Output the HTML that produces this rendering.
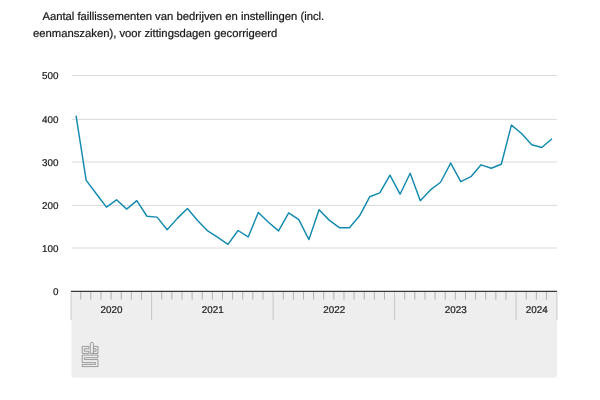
<!DOCTYPE html>
<html lang="nl"><head><meta charset="utf-8"><title>Faillissementen</title>
<style>
html,body{margin:0;padding:0;background:#fff;}
body{width:600px;height:400px;overflow:hidden;}
svg{display:block;text-rendering:geometricPrecision;font-family:"Liberation Sans",Arial,sans-serif;}
.t{font-size:11.28px;fill:#1a1a1a;stroke:#1a1a1a;stroke-width:0.24px;}
.l{font-size:9.85px;fill:#1c1c1c;stroke:#1c1c1c;stroke-width:0.22px;}
</style></head><body>
<svg width="600" height="400" viewBox="0 0 600 400">
<rect width="600" height="400" fill="#fff"/>
<text class="t" x="42.4" y="19.8">Aantal faillissementen van bedrijven en instellingen (incl.</text>
<text class="t" x="33" y="36.6">eenmanszaken), voor zittingsdagen gecorrigeerd</text>
<path d="M71.4 291 H557 V374.6 a3.2 3.2 0 0 1 -3.2 3.2 H74.6 a3.2 3.2 0 0 1 -3.2 -3.2 Z" fill="#eeeeee"/>

<line x1="71.6" x2="557.0" y1="248.0" y2="248.0" stroke="#dadada" stroke-width="1"/>
<line x1="71.6" x2="557.0" y1="205.4" y2="205.4" stroke="#dadada" stroke-width="1"/>
<line x1="71.6" x2="557.0" y1="162.0" y2="162.0" stroke="#dadada" stroke-width="1"/>
<line x1="71.6" x2="557.0" y1="119.35" y2="119.35" stroke="#dadada" stroke-width="1"/>
<line x1="71.6" x2="557.0" y1="75.5" y2="75.5" stroke="#dadada" stroke-width="1"/>
<text class="l" x="58.4" y="295.05" text-anchor="end">0</text>
<text class="l" x="58.4" y="251.75" text-anchor="end">100</text>
<text class="l" x="58.4" y="209.15" text-anchor="end">200</text>
<text class="l" x="58.4" y="165.75" text-anchor="end">300</text>
<text class="l" x="58.4" y="123.10" text-anchor="end">400</text>
<text class="l" x="58.4" y="79.25" text-anchor="end">500</text>
<line x1="71.00" x2="71.00" y1="291.4" y2="320.2" stroke="#b4b4b4" stroke-width="0.7"/>
<line x1="80.72" x2="80.72" y1="291.4" y2="299.6" stroke="#9c9c9c" stroke-width="0.75"/>
<line x1="90.85" x2="90.85" y1="291.4" y2="299.6" stroke="#9c9c9c" stroke-width="0.75"/>
<line x1="100.97" x2="100.97" y1="291.4" y2="299.6" stroke="#9c9c9c" stroke-width="0.75"/>
<line x1="111.10" x2="111.10" y1="291.4" y2="299.6" stroke="#9c9c9c" stroke-width="0.75"/>
<line x1="121.22" x2="121.22" y1="291.4" y2="299.6" stroke="#9c9c9c" stroke-width="0.75"/>
<line x1="131.35" x2="131.35" y1="291.4" y2="299.6" stroke="#9c9c9c" stroke-width="0.75"/>
<line x1="141.47" x2="141.47" y1="291.4" y2="299.6" stroke="#9c9c9c" stroke-width="0.75"/>
<line x1="151.60" x2="151.60" y1="291.4" y2="320.2" stroke="#b4b4b4" stroke-width="0.7"/>
<line x1="161.72" x2="161.72" y1="291.4" y2="299.6" stroke="#9c9c9c" stroke-width="0.75"/>
<line x1="171.85" x2="171.85" y1="291.4" y2="299.6" stroke="#9c9c9c" stroke-width="0.75"/>
<line x1="181.97" x2="181.97" y1="291.4" y2="299.6" stroke="#9c9c9c" stroke-width="0.75"/>
<line x1="192.10" x2="192.10" y1="291.4" y2="299.6" stroke="#9c9c9c" stroke-width="0.75"/>
<line x1="202.22" x2="202.22" y1="291.4" y2="299.6" stroke="#9c9c9c" stroke-width="0.75"/>
<line x1="212.35" x2="212.35" y1="291.4" y2="299.6" stroke="#9c9c9c" stroke-width="0.75"/>
<line x1="222.47" x2="222.47" y1="291.4" y2="299.6" stroke="#9c9c9c" stroke-width="0.75"/>
<line x1="232.60" x2="232.60" y1="291.4" y2="299.6" stroke="#9c9c9c" stroke-width="0.75"/>
<line x1="242.72" x2="242.72" y1="291.4" y2="299.6" stroke="#9c9c9c" stroke-width="0.75"/>
<line x1="252.85" x2="252.85" y1="291.4" y2="299.6" stroke="#9c9c9c" stroke-width="0.75"/>
<line x1="262.98" x2="262.98" y1="291.4" y2="299.6" stroke="#9c9c9c" stroke-width="0.75"/>
<line x1="273.10" x2="273.10" y1="291.4" y2="320.2" stroke="#b4b4b4" stroke-width="0.7"/>
<line x1="283.23" x2="283.23" y1="291.4" y2="299.6" stroke="#9c9c9c" stroke-width="0.75"/>
<line x1="293.35" x2="293.35" y1="291.4" y2="299.6" stroke="#9c9c9c" stroke-width="0.75"/>
<line x1="303.48" x2="303.48" y1="291.4" y2="299.6" stroke="#9c9c9c" stroke-width="0.75"/>
<line x1="313.60" x2="313.60" y1="291.4" y2="299.6" stroke="#9c9c9c" stroke-width="0.75"/>
<line x1="323.73" x2="323.73" y1="291.4" y2="299.6" stroke="#9c9c9c" stroke-width="0.75"/>
<line x1="333.85" x2="333.85" y1="291.4" y2="299.6" stroke="#9c9c9c" stroke-width="0.75"/>
<line x1="343.98" x2="343.98" y1="291.4" y2="299.6" stroke="#9c9c9c" stroke-width="0.75"/>
<line x1="354.10" x2="354.10" y1="291.4" y2="299.6" stroke="#9c9c9c" stroke-width="0.75"/>
<line x1="364.23" x2="364.23" y1="291.4" y2="299.6" stroke="#9c9c9c" stroke-width="0.75"/>
<line x1="374.35" x2="374.35" y1="291.4" y2="299.6" stroke="#9c9c9c" stroke-width="0.75"/>
<line x1="384.48" x2="384.48" y1="291.4" y2="299.6" stroke="#9c9c9c" stroke-width="0.75"/>
<line x1="394.60" x2="394.60" y1="291.4" y2="320.2" stroke="#b4b4b4" stroke-width="0.7"/>
<line x1="404.73" x2="404.73" y1="291.4" y2="299.6" stroke="#9c9c9c" stroke-width="0.75"/>
<line x1="414.85" x2="414.85" y1="291.4" y2="299.6" stroke="#9c9c9c" stroke-width="0.75"/>
<line x1="424.98" x2="424.98" y1="291.4" y2="299.6" stroke="#9c9c9c" stroke-width="0.75"/>
<line x1="435.10" x2="435.10" y1="291.4" y2="299.6" stroke="#9c9c9c" stroke-width="0.75"/>
<line x1="445.23" x2="445.23" y1="291.4" y2="299.6" stroke="#9c9c9c" stroke-width="0.75"/>
<line x1="455.35" x2="455.35" y1="291.4" y2="299.6" stroke="#9c9c9c" stroke-width="0.75"/>
<line x1="465.48" x2="465.48" y1="291.4" y2="299.6" stroke="#9c9c9c" stroke-width="0.75"/>
<line x1="475.60" x2="475.60" y1="291.4" y2="299.6" stroke="#9c9c9c" stroke-width="0.75"/>
<line x1="485.73" x2="485.73" y1="291.4" y2="299.6" stroke="#9c9c9c" stroke-width="0.75"/>
<line x1="495.85" x2="495.85" y1="291.4" y2="299.6" stroke="#9c9c9c" stroke-width="0.75"/>
<line x1="505.98" x2="505.98" y1="291.4" y2="299.6" stroke="#9c9c9c" stroke-width="0.75"/>
<line x1="516.10" x2="516.10" y1="291.4" y2="320.2" stroke="#b4b4b4" stroke-width="0.7"/>
<line x1="526.23" x2="526.23" y1="291.4" y2="299.6" stroke="#9c9c9c" stroke-width="0.75"/>
<line x1="536.35" x2="536.35" y1="291.4" y2="299.6" stroke="#9c9c9c" stroke-width="0.75"/>
<line x1="546.48" x2="546.48" y1="291.4" y2="299.6" stroke="#9c9c9c" stroke-width="0.75"/>
<line x1="557.00" x2="557.00" y1="291.4" y2="320.2" stroke="#b4b4b4" stroke-width="0.7"/>
<text class="l" x="111.50" y="313.1" text-anchor="middle">2020</text>
<text class="l" x="212.75" y="313.1" text-anchor="middle">2021</text>
<text class="l" x="334.25" y="313.1" text-anchor="middle">2022</text>
<text class="l" x="455.75" y="313.1" text-anchor="middle">2023</text>
<text class="l" x="536.75" y="313.1" text-anchor="middle">2024</text>
<line x1="71.0" x2="557.0" y1="291.29999999999995" y2="291.29999999999995" stroke="#3a3a3a" stroke-width="1.35"/>
<polyline points="76.06,115.58 86.19,180.38 96.31,193.77 106.44,207.16 116.56,199.82 126.69,209.10 136.81,200.68 146.94,216.23 157.06,217.10 167.19,229.80 177.31,218.39 187.44,208.46 197.56,220.55 207.69,230.92 217.81,237.40 227.94,244.31 238.06,230.49 248.19,236.97 258.31,212.56 268.44,222.28 278.56,230.92 288.69,212.78 298.81,219.69 308.94,239.56 319.06,209.75 329.19,220.12 339.31,227.68 349.44,227.68 359.56,215.80 369.69,196.79 379.81,192.90 389.94,175.19 400.06,194.20 410.19,173.29 420.31,200.68 430.44,189.88 440.56,182.28 450.69,163.10 460.81,181.67 470.94,176.70 481.06,164.82 491.19,168.28 501.31,164.22 511.44,125.08 521.56,133.46 531.69,144.74 541.81,147.54 551.94,138.69" fill="none" stroke="#138aaf" stroke-width="1.45" stroke-linejoin="round" stroke-linecap="butt"/>
<g fill="none" stroke="#777" stroke-width="0.7" stroke-linejoin="miter">
<path d="M88.8 346.4 H82.2 V353.4 H88.8 V351.2 H84.3 V348.7 H88.8 Z"/>
<path d="M90.3 353.4 V343.6 Q90.3 342.4 91.85 342.4 Q93.4 342.4 93.4 343.6 V346.4 H98 V353.4 Z M93.4 346.4 V353.4 M93.4 348.7 H96.1 V351.2 H93.4"/>
<path d="M82.2 355.1 H98 V357.7 H84.3 V359.6 H98 V366.6 H82.2 V364.4 H95.6 V362.6 H82.2 Z"/>
</g>
</svg></body></html>
